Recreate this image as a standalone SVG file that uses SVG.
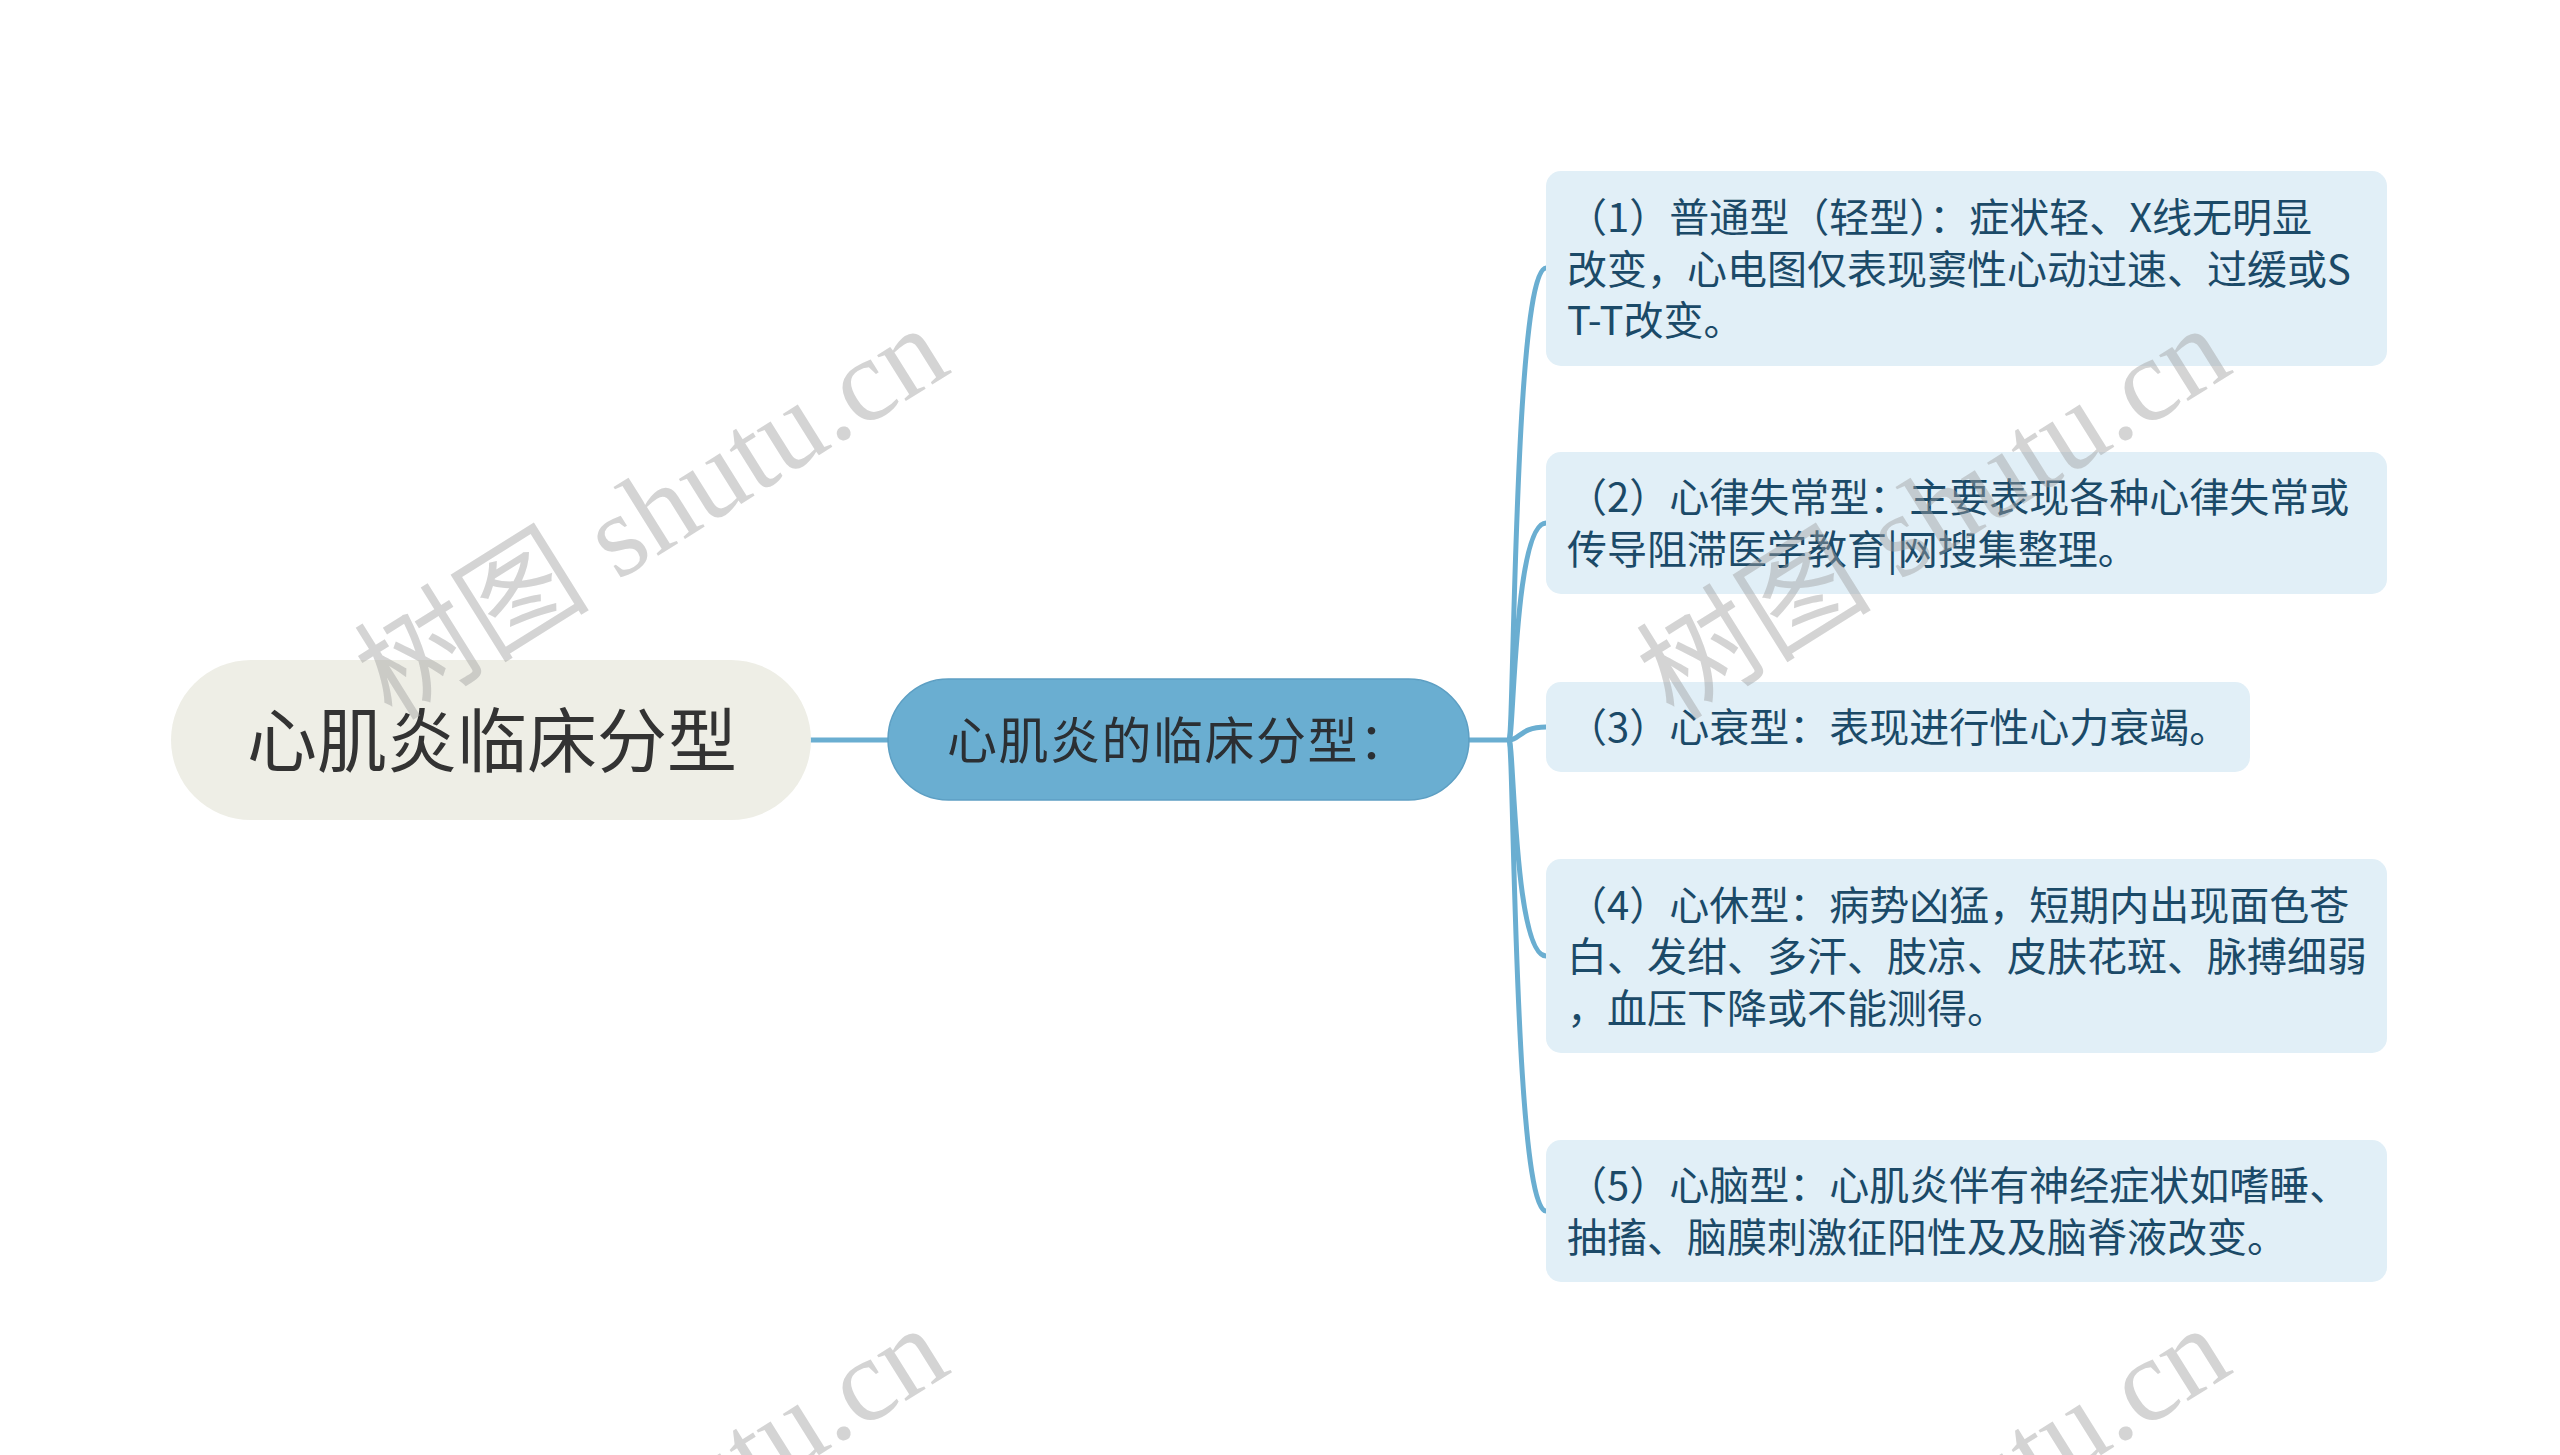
<svg xmlns="http://www.w3.org/2000/svg" width="2560" height="1455" viewBox="0 0 2560 1455">
<style>
.wm{font-family:"Liberation Serif","Noto Sans CJK SC",serif;font-size:118px;fill:#a0a0a0;fill-opacity:0.45;}
.leaf rect{fill:#e1eff7;}
.leaf text{font-family:"Noto Sans CJK SC","Noto Sans",sans-serif;font-size:40px;fill:#1b4a68;}
.conn{fill:none;stroke:#6aaed1;stroke-width:5;stroke-linecap:round;}
</style>
<rect width="2560" height="1455" fill="#ffffff"/>
<g id="connectors">
<path class="conn" d="M811,740 H888"/>
<path class="conn" d="M1469,740 H1509"/>
<path class="conn" d="M1509,740 C1514,740 1514,268 1546,268"/>
<path class="conn" d="M1509,740 C1514,740 1514,523 1546,523"/>
<path class="conn" d="M1509,740 C1520,740 1520,727 1546,727"/>
<path class="conn" d="M1509,740 C1514,740 1514,956 1546,956"/>
<path class="conn" d="M1509,740 C1514,740 1514,1211 1546,1211"/>
</g>
<g id="root">
<rect x="171" y="660" width="640" height="160" rx="80" fill="#eeeee6"/>
<text x="492" y="767" text-anchor="middle" font-family="Noto Sans CJK SC, Noto Sans, sans-serif" font-size="70" fill="#333333">心肌炎临床分型</text>
</g>
<g id="middle">
<rect x="888" y="679" width="581" height="121" rx="60.5" fill="#6aaed1" stroke="#5d9fc3" stroke-width="1.5"/>
<text x="947" y="759" font-family="Noto Sans CJK SC, Noto Sans, sans-serif" font-size="50" letter-spacing="1.5" fill="#2b2f33">心肌炎的临床分型：</text>
</g>
<g id="leaf1" class="leaf">
<rect x="1546" y="171" width="841" height="195" rx="15"/>
<text x="1567" y="232">（1）普通型（轻型）：症状轻、X线无明显</text>
<text x="1567" y="284">改变，心电图仅表现窦性心动过速、过缓或S</text>
<text x="1567" y="335">T-T改变。</text>
</g>
<g id="leaf2" class="leaf">
<rect x="1546" y="452" width="841" height="142" rx="15"/>
<text x="1567" y="512">（2）心律失常型：主要表现各种心律失常或</text>
<text x="1567" y="564">传导阻滞医学教育|网搜集整理。</text>
</g>
<g id="leaf3" class="leaf">
<rect x="1546" y="682" width="704" height="90" rx="15"/>
<text x="1567" y="742">（3）心衰型：表现进行性心力衰竭。</text>
</g>
<g id="leaf4" class="leaf">
<rect x="1546" y="859" width="841" height="194" rx="15"/>
<text x="1567" y="920">（4）心休型：病势凶猛，短期内出现面色苍</text>
<text x="1567" y="971">白、发绀、多汗、肢凉、皮肤花斑、脉搏细弱</text>
<text x="1567" y="1023">，血压下降或不能测得。</text>
</g>
<g id="leaf5" class="leaf">
<rect x="1546" y="1140" width="841" height="142" rx="15"/>
<text x="1567" y="1200">（5）心脑型：心肌炎伴有神经症状如嗜睡、</text>
<text x="1567" y="1252">抽搐、脑膜刺激征阳性及及脑脊液改变。</text>
</g>
<g id="watermarks">
<text class="wm" transform="translate(392,722) rotate(-32)">树图 shutu.cn</text>
<text class="wm" transform="translate(1674,722) rotate(-32)">树图 shutu.cn</text>
<text class="wm" transform="translate(392,1722) rotate(-32)">树图 shutu.cn</text>
<text class="wm" transform="translate(1674,1722) rotate(-32)">树图 shutu.cn</text>
</g>
</svg>
